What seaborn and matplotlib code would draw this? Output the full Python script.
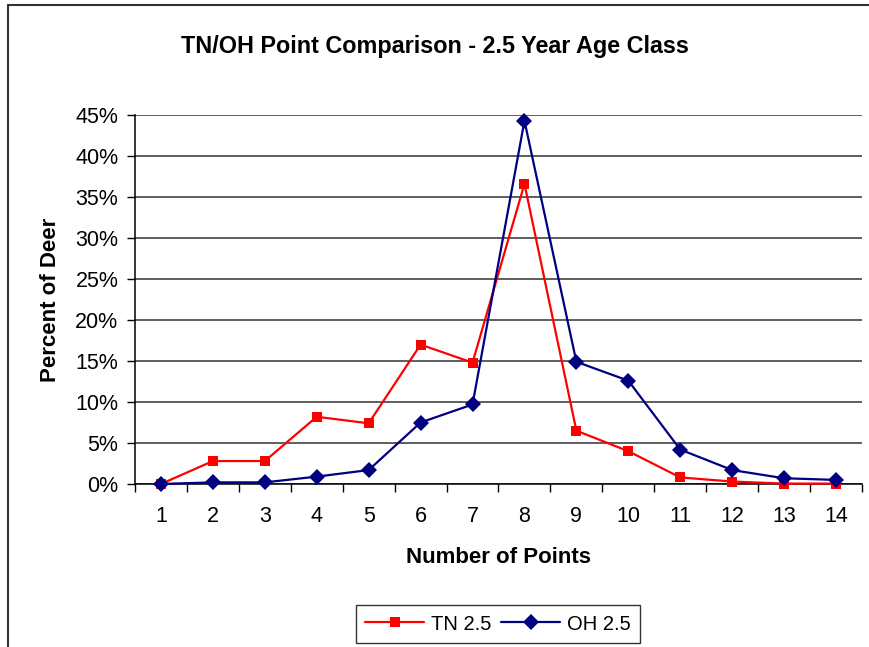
import numpy as np
import pandas as pd
import seaborn as sns
import matplotlib
matplotlib.use("Agg")
import matplotlib.pyplot as plt
from matplotlib.lines import Line2D
from matplotlib.ticker import FixedLocator, FuncFormatter

points = [1, 2, 3, 4, 5, 6, 7, 8, 9, 10, 11, 12, 13, 14]
tn_25 = [0.0, 2.8, 2.8, 8.2, 7.4, 17.0, 14.8, 36.6, 6.5, 4.0, 0.8, 0.3, 0.05, 0.05]
oh_25 = [0.0, 0.2, 0.2, 0.9, 1.7, 7.5, 9.7, 44.3, 14.9, 12.6, 4.2, 1.7, 0.7, 0.5]
series_names = ["TN 2.5", "OH 2.5"]
yticks = [0, 5, 10, 15, 20, 25, 30, 35, 40, 45]

df = pd.DataFrame({
    "Number of Points": points * 2,
    "Percent": tn_25 + oh_25,
    "Series": [series_names[0]] * len(points) + [series_names[1]] * len(points),
})

sns.set_style("white")
plt.rcParams["font.family"] = ["Liberation Sans", "DejaVu Sans"]
plt.rcParams["text.color"] = "black"
plt.rcParams["axes.labelcolor"] = "black"
plt.rcParams["xtick.color"] = "black"
plt.rcParams["ytick.color"] = "black"

fig = plt.figure(figsize=(8.70, 6.47), dpi=100)
ax = fig.add_axes([135 / 870, 1 - 484 / 647, (862 - 135) / 870, (484 - 115) / 647])

palette = {"TN 2.5": "#FF0000", "OH 2.5": "#000080"}
markers = {"TN 2.5": "s", "OH 2.5": "D"}
sizes_ms = {"TN 2.5": 6.5, "OH 2.5": 8.5}

for name in series_names:
    sub = df[df["Series"] == name]
    sns.lineplot(data=sub, x="Number of Points", y="Percent", ax=ax,
                 color=palette[name], marker=markers[name],
                 markersize=sizes_ms[name], markeredgewidth=0,
                 linewidth=1.6, label=name, legend=False, clip_on=False,
                 zorder=3)

ax.set_xlim(0.5, 14.5)
ax.set_ylim(0, 45)
ax.set_xticks(points)
ax.set_xticklabels([str(p) for p in points])
ax.xaxis.set_minor_locator(FixedLocator(np.arange(0.5, 15.0, 1.0)))
ax.tick_params(axis="x", which="major", length=0, pad=16, labelsize=15.5,
               labelcolor="black")
ax.tick_params(axis="x", which="minor", length=6, width=1, color="black",
               direction="out", bottom=True)
ax.set_yticks(yticks)
ax.yaxis.set_major_formatter(FuncFormatter(lambda v, p: f"{int(v)}%"))
ax.tick_params(axis="y", which="major", length=6, width=1, color="black",
               direction="out", left=True, labelsize=15.5, pad=6,
               labelcolor="black")

ax.grid(axis="y", color="#333333", linewidth=1.1)
ax.grid(axis="x", visible=False)
ax.set_axisbelow(True)
for s in ["top", "right"]:
    ax.spines[s].set_visible(False)
for s in ["left", "bottom"]:
    ax.spines[s].set_color("black")
    ax.spines[s].set_linewidth(1.1)

ax.set_xlabel("Number of Points", fontsize=16, fontweight="bold", labelpad=14,
              color="black")
ax.set_ylabel("Percent of Deer", fontsize=16, fontweight="bold", labelpad=10,
              color="black")

fig.text(435 / 870, 1 - 47 / 647, "TN/OH Point Comparison - 2.5 Year Age Class",
         ha="center", va="center", fontsize=16.8, fontweight="bold", color="black")

# outer chart frame (top and left edges visible)
fig.add_artist(Line2D([8 / 870, 8 / 870], [0, 1 - 5 / 647], transform=fig.transFigure,
                      color="#333333", linewidth=1.5))
fig.add_artist(Line2D([8 / 870, 1], [1 - 5 / 647, 1 - 5 / 647], transform=fig.transFigure,
                      color="#333333", linewidth=1.5))

handles = [Line2D([], [], color=palette[n], marker=markers[n],
                  markersize=sizes_ms[n], markeredgewidth=0, linewidth=1.6)
           for n in series_names]
leg = fig.legend(handles, series_names, loc="center", ncol=2,
                 bbox_to_anchor=(498 / 870, 1 - 624 / 647), fontsize=14.5,
                 frameon=True, fancybox=False, edgecolor="black",
                 handlelength=2.9, columnspacing=0.5, handletextpad=0.35,
                 borderpad=0.45, labelcolor="black")
leg.get_frame().set_linewidth(1.0)

fig.savefig("out.png", dpi=100)
